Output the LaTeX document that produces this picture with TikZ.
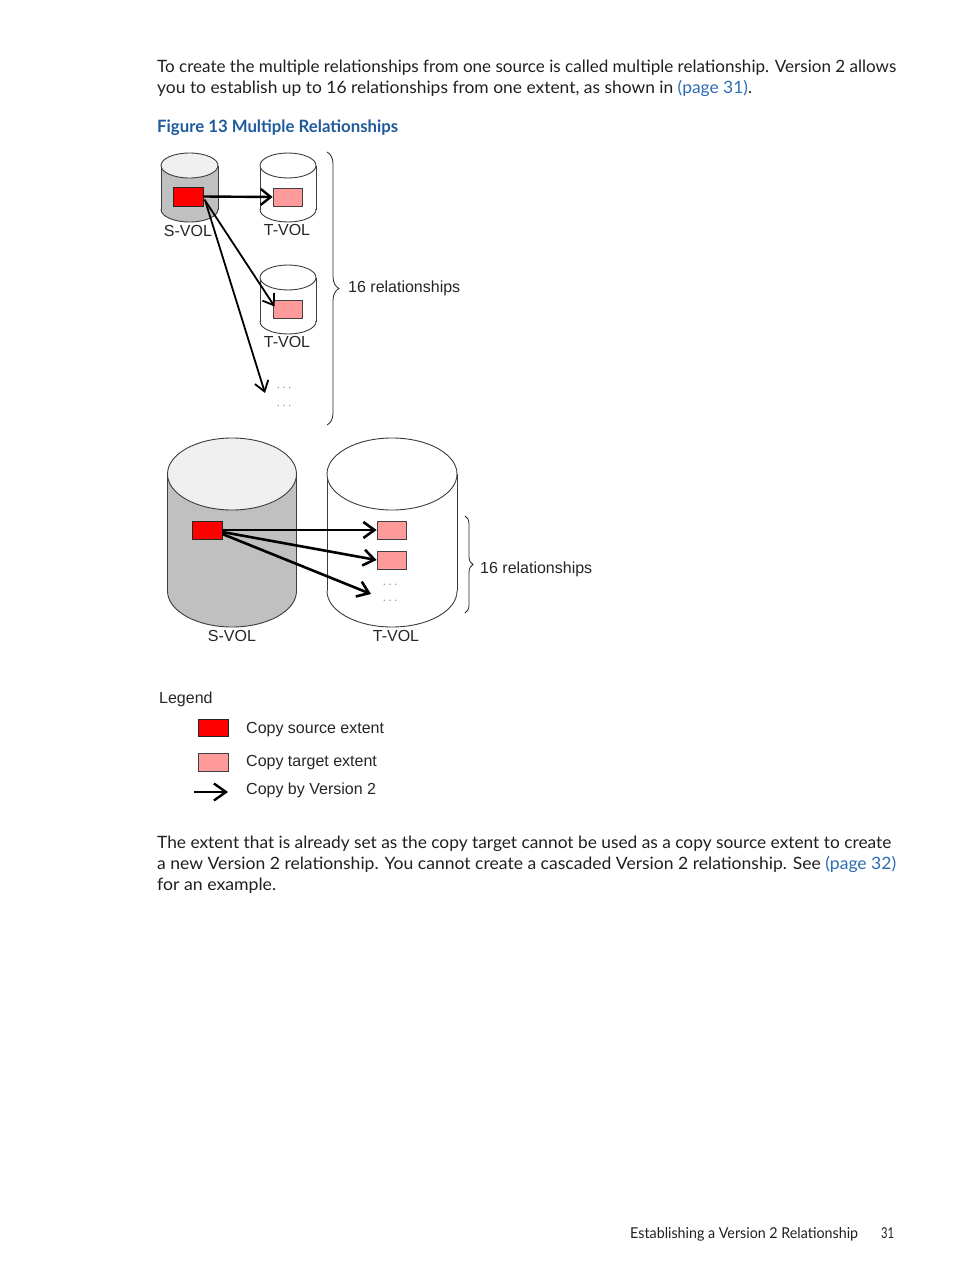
\documentclass[tikz,border=0pt]{standalone}
\usepackage{fontspec}
\setmainfont{Lato}
\newfontfamily\diagfont{Liberation Sans}
\usetikzlibrary{arrows.meta,decorations.pathreplacing,calc}
\definecolor{linkblue}{HTML}{2E6DB4}
\definecolor{titleblue}{HTML}{1F5A9C}
\definecolor{ink}{HTML}{231F20}
\definecolor{srcred}{HTML}{FF0000}
\definecolor{tgtpink}{HTML}{FF9A9A}
\definecolor{volgray}{HTML}{C0C0C0}
\definecolor{voltop}{HTML}{F0F0F0}
\definecolor{edgegray}{HTML}{3C3C3C}
\newcommand\fitline[2]{\resizebox{#1pt}{\height}{#2}}
% cx, ytop, ybot, rx, ry, side colour, top colour
\newcommand\drum[7]{%
  \fill[#6] (#1-#4,#2) rectangle (#1+#4,#3);
  \fill[#6] (#1,#3) ellipse [x radius=#4, y radius=#5];
  \draw[volline] (#1-#4,#2) -- (#1-#4,#3) (#1+#4,#2) -- (#1+#4,#3);
  \begin{scope}
    \clip (#1-#4-3,#3) rectangle (#1+#4+3,#3+#5+3);
    \draw[volline] (#1,#3) ellipse [x radius=#4, y radius=#5];
  \end{scope}
  \filldraw[volline, fill=#7] (#1,#2) ellipse [x radius=#4, y radius=#5];
}
\begin{document}
\begin{tikzpicture}[x=1pt,y=-1pt,
  bodytext/.style={anchor=base west, inner sep=0pt, text=ink, font=\fontsize{17}{20}\selectfont},
  titletext/.style={anchor=base west, inner sep=0pt, text=titleblue, font=\fontsize{17}{20}\selectfont\bfseries},
  foottext/.style={anchor=base west, inner sep=0pt, text=ink, font=\fontsize{15}{18}\selectfont},
  dlabel/.style={font=\diagfont\fontsize{16}{19}\selectfont, text=black!85, inner sep=0pt},
  dots/.style={font=\diagfont\fontsize{12}{12}\selectfont, text=black!60, inner sep=0pt},
  srcbox/.style={draw=black!85, fill=srcred, line width=0.8pt, minimum width=30pt, minimum height=19pt, inner sep=0pt},
  tgtbox/.style={draw=black!75, fill=tgtpink, line width=0.8pt, minimum width=29pt, minimum height=18pt, inner sep=0pt},
  volline/.style={draw=edgegray, line width=0.9pt},
  arr/.style={-{Straight Barb[length=10pt,width=16pt]}, line width=2.4pt, black},
  arrthin/.style={-{Straight Barb[length=10pt,width=14pt]}, line width=1.8pt, black},
  arrbig/.style={-{Straight Barb[length=11pt,width=16pt]}, line width=2.6pt, black},
  bracesmall/.style={decorate, decoration={brace, amplitude=12pt}, line width=0.8pt, black!85},
  bracebig/.style={decorate, decoration={brace, amplitude=8pt}, line width=0.8pt, black!85}
]
\useasboundingbox[fill=white] (0,0) rectangle (954,1271);

% ---------- text above ----------
\node[bodytext] (p1a) at (157,73) {\fitline{739}{To create the multiple relationships from one source is called multiple relationship. Version 2 allows}};
\node[bodytext] (p1b) at (157,94) {\fitline{595}{you to establish up to 16 relationships from one extent, as shown in \textcolor{linkblue}{(page 31)}.}};
\node[titletext] (title) at (157,133) {\fitline{241}{Figure 13 Multiple Relationships}};

% ---------- small diagram ----------
\drum{189.5}{165.5}{209.5}{28.5}{12.5}{volgray}{voltop}
\drum{288}{165.5}{209.5}{28}{12.5}{white}{white}
\drum{288}{277.5}{321.5}{28}{12.5}{white}{white}
\node[srcbox] (s1) at (188,196.5) {};
\node[tgtbox] (t1) at (287.5,197) {};
\node[tgtbox] (t2) at (287.5,309.5) {};
\node[dlabel] (ls1) at (188,231) {S-VOL};
\node[dlabel] (lt1) at (287,230) {T-VOL};
\node[dlabel] (lt2) at (287,342) {T-VOL};
\node[dots] (dA) at (284,388) {\fitline{14}{. . .}};
\node[dots] (dB) at (284,406) {\fitline{14}{. . .}};
\coordinate (d1) at (265,393);
\draw[arr] (s1.east) -- (t1.west);
\draw[arrthin] ($(s1.east)+(1,3)$) -- ($(t2.west)+(2,-3)$);
\draw[arrthin] ($(s1.east)+(2,5)$) -- (d1);
\coordinate (bra1) at (327,152);
\coordinate (bra2) at (327,425);
\draw[bracesmall] (bra1) -- (bra2);
\node[dlabel, anchor=base west] (rel1) at (348,292) {16 relationships};

% ---------- big diagram ----------
\drum{232}{474}{591}{64.5}{36}{volgray}{voltop}
\drum{392}{474}{591}{65}{36}{white}{white}
\node[srcbox, minimum height=18pt] (bs) at (207,530) {};
\node[tgtbox] (bt1) at (391.5,530) {};
\node[tgtbox] (bt2) at (391.5,560) {};
\node[dots] (dC) at (390,585) {\fitline{14}{. . .}};
\node[dots] (dD) at (390,601) {\fitline{14}{. . .}};
\coordinate (d2) at (371,594);
\draw[arrbig] (bs.east) -- (bt1.west);
\draw[arrbig] ($(bs.east)+(0,2)$) -- (bt2.west);
\draw[arrbig] ($(bs.east)+(0,4)$) -- (d2);
\node[dlabel] (lbs) at (232,636) {S-VOL};
\node[dlabel] (lbt) at (396,636) {T-VOL};
\coordinate (brb1) at (465,516);
\coordinate (brb2) at (465,613);
\draw[bracebig] (brb1) -- (brb2);
\node[dlabel, anchor=base west] (rel2) at (480,573) {16 relationships};

% ---------- legend ----------
\node[dlabel, anchor=base west] (leg) at (159,703) {Legend};
\node[srcbox, minimum height=17pt] (lr) at (213,727.5) {};
\node[tgtbox, minimum width=30pt] (lp) at (213,762) {};
\coordinate (la1) at (194,792);
\coordinate (la2) at (228,792);
\draw[arr, -{Straight Barb[length=12pt,width=17pt]}] (la1) -- (la2);
\node[dlabel, anchor=base west] (lt-src) at (246,733) {Copy source extent};
\node[dlabel, anchor=base west] (lt-tgt) at (246,766) {Copy target extent};
\node[dlabel, anchor=base west] (lt-arr) at (246,794) {Copy by Version 2};

% ---------- text below ----------
\node[bodytext] (p2a) at (157,848) {\fitline{734}{The extent that is already set as the copy target cannot be used as a copy source extent to create}};
\node[bodytext] (p2b) at (157,869) {\fitline{739}{a new Version 2 relationship. You cannot create a cascaded Version 2 relationship. See \textcolor{linkblue}{(page 32)}}};
\node[bodytext] (p2c) at (157,890) {\fitline{119}{for an example.}};

% ---------- footer ----------
\node[foottext] (foot) at (630,1238) {\fitline{228}{Establishing a Version 2 Relationship}};
\node[foottext] (pageno) at (881,1238) {\fitline{13}{31}};
\end{tikzpicture}
\end{document}
